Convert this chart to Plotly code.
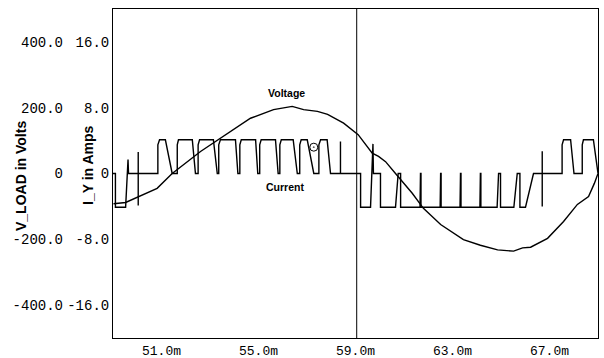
import plotly.graph_objects as go

# ---------------- data ----------------
# Voltage V_LOAD (V) vs time (ms)
V_T = [49.02, 49.52, 50.82, 51.44, 52.61, 53.85, 54.67, 55.62, 56.39, 56.86, 57.43,
       57.85, 58.51, 59.11, 59.69, 59.95, 60.24, 60.65, 61.34, 61.80, 62.51, 63.45,
       64.15, 64.86, 65.52, 65.89, 66.22, 66.92, 67.58, 68.15, 68.61, 68.85, 69.0]
V_VAL = [-92, -88, -45, 0, 67, 128, 168, 194, 204, 194, 189,
         180, 153, 118, 62, 52, 36, 0, -60, -106, -155, -201,
         -218, -232, -236, -226, -224, -197, -146, -94, -70, -30, 0]

# Current I_Y (A): positive pulses (rise, top start, top end, fall end)
POS_RISE      = [50.85, 51.65, 52.51, 53.36, 54.23, 55.05, 55.88, 56.70, 57.49, 67.52, 68.35]
POS_TOP_START = [50.92, 51.70, 52.57, 53.43, 54.29, 55.11, 55.94, 56.76, 57.56, 67.58, 68.40]
POS_TOP_END   = [51.16, 52.27, 53.14, 54.05, 54.88, 55.70, 56.43, 57.01, 57.83, 67.87, 68.81]
POS_FALL      = [51.44, 52.40, 53.30, 54.15, 54.97, 55.81, 56.60, 57.28, 57.97, 68.01, 69.0]
POS_LEVEL = 4.1

# negative pulses (step down, end of flat, back up) and overshoot at the up edge
NEG_DOWN     = [49.10, 59.21, 60.03, 60.86, 61.70, 62.53, 63.35, 64.17, 64.98, 65.78]
NEG_FLAT_END = [49.52, 59.62, 60.65, 61.66, 62.49, 63.31, 64.13, 64.84, 65.53, 66.01]
NEG_UP       = [49.62, 59.72, 60.76, 61.68, 62.51, 63.33, 64.15, 64.90, 65.67, 66.34]
NEG_UP_PEAK  = [1.7, 3.6, 0, 0, 0, 0, 0, 0, 0, 0]
NEG_LEVEL = -4.1

# switching spikes (time, high value, low value)
SPIKE_T    = [50.04, 58.38, 66.70]
SPIKE_HIGH = [2.6, 3.9, 2.7]
SPIKE_LOW  = [-3.9, 0.0, -4.0]

T_START, T_END = 49.0, 69.0
CURSOR_T = 59.05
MARKER_T, MARKER_I = 57.28, 3.2

X_TICKS = [51.0, 55.0, 59.0, 63.0, 67.0]
X_TICK_TEXT = ["51.0m", "55.0m", "59.0m", "63.0m", "67.0m"]
V_TICKS = [-400, -200, 0, 200, 400]
V_TICK_TEXT = ["-400.0", "-200.0", "0", "200.0", "400.0"]
I_TICKS = [-16, -8, 0, 8, 16]
I_TICK_TEXT = ["-16.0", "-8.0", "0", "8.0", "16.0"]

# ---------------- build current polyline ----------------
events = []
for r, s, e, f in zip(POS_RISE, POS_TOP_START, POS_TOP_END, POS_FALL):
    events.append([(r, 0), (r, POS_LEVEL * 0.85), (s, POS_LEVEL), (e, POS_LEVEL), (f, 0)])
for d, fe, u, pk in zip(NEG_DOWN, NEG_FLAT_END, NEG_UP, NEG_UP_PEAK):
    seg = [(d, 0), (d, NEG_LEVEL), (fe, NEG_LEVEL), (u, pk)]
    if pk != 0:
        seg.append((u + 0.02, 0))
    events.append(seg)
for t, hi, lo in zip(SPIKE_T, SPIKE_HIGH, SPIKE_LOW):
    events.append([(t, 0), (t, hi), (t, lo), (t, 0)])
events.sort(key=lambda s: s[0][0])

I_T, I_VAL = [T_START], [0]
for seg in events:
    for t, v in seg:
        I_T.append(t)
        I_VAL.append(v)
I_T.append(T_END)
I_VAL.append(0)

# ---------------- figure ----------------
W, H = 604, 358
ML, MR, MT, MB = 0, 6, 9, 20
PW = W - ML - MR
PLOT_L = 113
dom0 = PLOT_L / PW

tick_font = dict(family="Liberation Mono", size=14, color="black")
xtick_font = dict(family="Liberation Mono", size=13, color="black")

fig = go.Figure()
fig.add_trace(go.Scatter(x=V_T, y=V_VAL, mode="lines", yaxis="y",
                         line=dict(color="black", width=1.4), showlegend=False))
fig.add_trace(go.Scatter(x=I_T, y=I_VAL, mode="lines", yaxis="y2",
                         line=dict(color="black", width=1.4), showlegend=False))
fig.add_trace(go.Scatter(x=[MARKER_T], y=[MARKER_I], mode="markers", yaxis="y2",
                         marker=dict(symbol="circle-open-dot", size=8, color="black",
                                     line=dict(width=1)), showlegend=False))

fig.update_layout(
    width=W, height=H,
    margin=dict(l=ML, r=MR, t=MT, b=MB),
    paper_bgcolor="white", plot_bgcolor="white",
    xaxis=dict(domain=[dom0, 1.0], range=[T_START, T_END], tickvals=X_TICKS,
               ticktext=X_TICK_TEXT, ticks="", showgrid=False, zeroline=False,
               showline=True, linecolor="black", linewidth=1, mirror=True,
               tickfont=xtick_font, automargin=False),
    yaxis=dict(range=[-500, 500], tickvals=V_TICKS, ticktext=V_TICK_TEXT,
               anchor="free", position=63 / PW, side="left", ticks="",
               showgrid=False, zeroline=False, showline=False, tickfont=tick_font,
               automargin=False),
    yaxis2=dict(range=[-20, 20], tickvals=I_TICKS, ticktext=I_TICK_TEXT,
                overlaying="y", anchor="x", side="left", ticks="",
                showgrid=False, zeroline=False, showline=True, linecolor="black",
                linewidth=1, mirror=True, tickfont=tick_font, automargin=False),
    shapes=[dict(type="line", xref="x", yref="y domain", x0=CURSOR_T, x1=CURSOR_T,
                 y0=0, y1=1, line=dict(color="black", width=1))],
    annotations=[
        dict(text="<b>V_LOAD in Volts</b>", xref="paper", yref="paper", x=11 / PW,
             y=(338 - 176) / 329, textangle=-90, showarrow=False,
             font=dict(family="Liberation Sans", size=14, color="black")),
        dict(text="<b>I_Y in Amps</b>", xref="paper", yref="paper", x=78 / PW,
             y=(338 - 165) / 329, textangle=-90, showarrow=False,
             font=dict(family="Liberation Sans", size=14, color="black")),
        dict(text="<b>Voltage</b>", xref="x", yref="y", x=56.15, y=245,
             showarrow=False, font=dict(family="Liberation Sans", size=10.5, color="black")),
        dict(text="<b>Current</b>", xref="x", yref="y", x=56.11, y=-41,
             showarrow=False, font=dict(family="Liberation Sans", size=10.5, color="black")),
    ],
)

fig.write_html("out.html", config={"displayModeBar": False},
               post_script="document.body.style.margin='0px';")
